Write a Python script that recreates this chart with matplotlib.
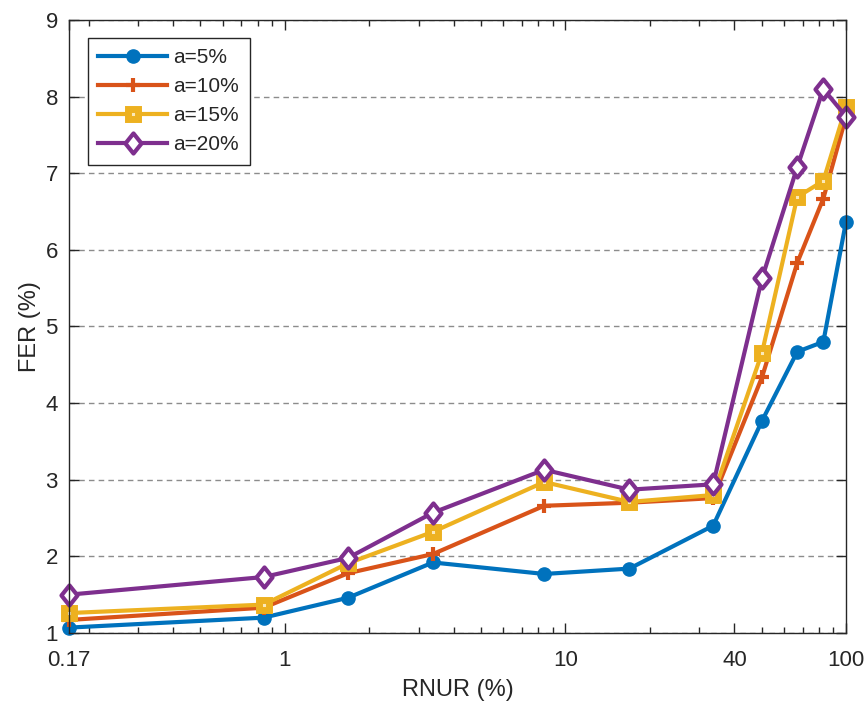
import matplotlib
matplotlib.use("Agg")
import matplotlib.pyplot as plt
from matplotlib.ticker import FixedLocator, FixedFormatter, LogLocator, NullFormatter
from matplotlib.path import Path

plt.rcParams['font.family'] = ['Liberation Sans', 'DejaVu Sans']

rnur = [0.17, 0.84, 1.68, 3.37, 8.4, 16.9, 33.6, 50.2, 67.0, 83.0, 100.0]
fer_a5 = [1.07, 1.20, 1.46, 1.92, 1.77, 1.84, 2.40, 3.77, 4.67, 4.80, 6.37]
fer_a10 = [1.17, 1.33, 1.78, 2.03, 2.66, 2.70, 2.76, 4.34, 5.83, 6.67, 7.74]
fer_a15 = [1.26, 1.37, 1.91, 2.32, 2.97, 2.71, 2.80, 4.66, 6.69, 6.90, 7.87]
fer_a20 = [1.50, 1.73, 1.98, 2.57, 3.13, 2.87, 2.94, 5.63, 7.08, 8.10, 7.74]
labels = ['a=5%', 'a=10%', 'a=15%', 'a=20%']
xticks = [0.17, 1, 10, 40, 100]
xticklabels = ['0.17', '1', '10', '40', '100']
yticks = [1, 2, 3, 4, 5, 6, 7, 8, 9]

colors = ['#0072BD', '#D95319', '#EDB120', '#7E2F8E']
tc = '#262626'

diamond = Path([(0, 1), (0.8, 0), (0, -1), (-0.8, 0), (0, 1)],
               [Path.MOVETO, Path.LINETO, Path.LINETO, Path.LINETO, Path.CLOSEPOLY])

fig = plt.figure(figsize=(8.68, 7.04), dpi=100)
ax = fig.add_axes([0.0795, 0.1009, 0.8952, 0.8707])

ax.plot(rnur, fer_a5, color=colors[0], lw=3, marker='o', ms=9.5,
        mfc=colors[0], mec=colors[0], label=labels[0], clip_on=False, zorder=3)
ax.plot(rnur, fer_a10, color=colors[1], lw=3, marker='+', ms=10,
        mew=3, mec=colors[1], label=labels[1], clip_on=False, zorder=3)
ax.plot(rnur, fer_a15, color=colors[2], lw=3, marker='s', ms=7.5,
        mew=5, mfc='#fbe9b8', mec=colors[2], label=labels[2], clip_on=False, zorder=3)
ax.plot(rnur, fer_a20, color=colors[3], lw=3, marker=diamond, ms=14.5,
        mew=3, mfc='white', mec=colors[3], label=labels[3], clip_on=False, zorder=3)

ax.set_xscale('log')
ax.set_xlim(0.17, 100)
ax.set_ylim(1, 9)
ax.xaxis.set_major_locator(FixedLocator(xticks))
ax.xaxis.set_major_formatter(FixedFormatter(xticklabels))
ax.xaxis.set_minor_locator(LogLocator(base=10, subs=range(2, 10), numticks=20))
ax.xaxis.set_minor_formatter(NullFormatter())
ax.set_yticks(yticks)

ax.grid(axis='y', which='major', ls=(0, (4, 3)), color='#8c8c8c', lw=1)
ax.set_axisbelow(True)

ax.tick_params(which='both', direction='in', top=True, right=True,
               colors=tc, labelsize=16, width=1)
ax.tick_params(axis='x', which='major', length=7, pad=12)
ax.tick_params(axis='y', which='major', length=7, pad=8)
ax.tick_params(which='minor', length=4)
for s in ax.spines.values():
    s.set_color(tc)
    s.set_linewidth(1)
    s.set_zorder(4)

ax.set_xlabel('RNUR (%)', fontsize=17, color=tc, labelpad=6)
ax.set_ylabel('FER (%)', fontsize=17, color=tc, labelpad=3)

leg = ax.legend(loc='upper left', bbox_to_anchor=(0.0245, 0.9706), borderaxespad=0,
                fontsize=15, fancybox=False, framealpha=1, edgecolor=tc,
                handlelength=3.3, handletextpad=0.3, labelspacing=0.48,
                borderpad=0.5)
leg.get_frame().set_linewidth(1)
for t in leg.get_texts():
    t.set_color(tc)

fig.savefig('out.png', dpi=100)
